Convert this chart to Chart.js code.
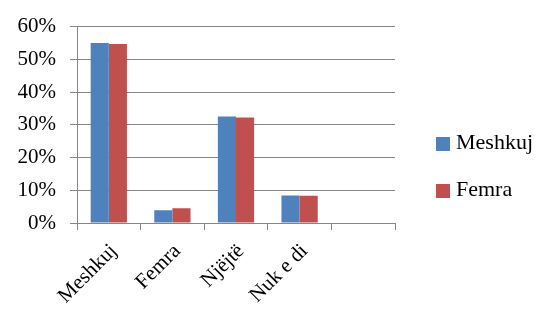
<!DOCTYPE html>
<html>
<head>
<meta charset="utf-8">
<script src="https://cdn.jsdelivr.net/npm/chart.js@4/dist/chart.umd.min.js"></script>
<style>
  body { margin: 0; background: #fff; }
  #wrap { position: relative; width: 538px; height: 311px; }
  .box { position: absolute; left: 436px; width: 14px; height: 14px; }
  .lbl { position: absolute; left: 456px; font: 22px "Liberation Serif", serif; line-height: 22px; color: #000; white-space: nowrap; }
</style>
</head>
<body>
<div id="wrap">
  <canvas id="chart" width="538" height="311"></canvas>
  <div id="legend"></div>
</div>
<script>
var categories = ["Meshkuj", "Femra", "Njëjtë", "Nuk e di", ""];
var seriesNames = ["Meshkuj", "Femra"];
var meshkujValues = [55.0, 3.9, 32.5, 8.4, null];
var femraValues = [54.7, 4.5, 32.2, 8.3, null];
var yTicks = [0, 10, 20, 30, 40, 50, 60];

var colors = ["#4F81BD", "#C0504D"];
var serif = "'Liberation Serif', 'Times New Roman', serif";
var gridColor = "#868686";

new Chart(document.getElementById("chart"), {
  type: "bar",
  data: {
    labels: categories,
    datasets: [
      { label: seriesNames[0], data: meshkujValues, backgroundColor: colors[0] },
      { label: seriesNames[1], data: femraValues, backgroundColor: colors[1] }
    ]
  },
  options: {
    responsive: false,
    animation: false,
    layout: { padding: { top: 24, right: 143, bottom: 0, left: 0 } },
    datasets: { bar: { categoryPercentage: 0.57, barPercentage: 1.0 } },
    plugins: { legend: { display: false }, tooltip: { enabled: false } },
    scales: {
      x: {
        offset: true,
        grid: { display: true, drawOnChartArea: false, drawTicks: true, tickLength: 7, color: gridColor, offset: true },
        border: { display: true, color: gridColor, width: 1 },
        ticks: {
          color: "#000",
          font: { family: serif, size: 21 },
          minRotation: 45,
          maxRotation: 45,
          autoSkip: false,
          padding: 9,
          labelOffset: 5
        },
        afterFit: function (scale) { scale.height = 88; }
      },
      y: {
        min: 0,
        max: 60,
        afterBuildTicks: function (scale) {
          scale.ticks = yTicks.map(function (v) { return { value: v }; });
        },
        grid: { color: gridColor, tickLength: 7, lineWidth: 1 },
        border: { display: true, color: gridColor, width: 1 },
        ticks: {
          color: "#000",
          font: { family: serif, size: 21 },
          padding: 14,
          callback: function (v) { return v + "%"; }
        },
        afterFit: function (scale) { scale.width = 77; }
      }
    }
  }
});

// legend drawn beside the chart
var legend = document.getElementById("legend");
var boxTops = [137, 184];
seriesNames.forEach(function (name, i) {
  var box = document.createElement("div");
  box.className = "box";
  box.style.top = boxTops[i] + "px";
  box.style.background = colors[i];
  legend.appendChild(box);
  var lbl = document.createElement("div");
  lbl.className = "lbl";
  lbl.style.top = (boxTops[i] - 6) + "px";
  lbl.textContent = name;
  legend.appendChild(lbl);
});
</script>
</body>
</html>
